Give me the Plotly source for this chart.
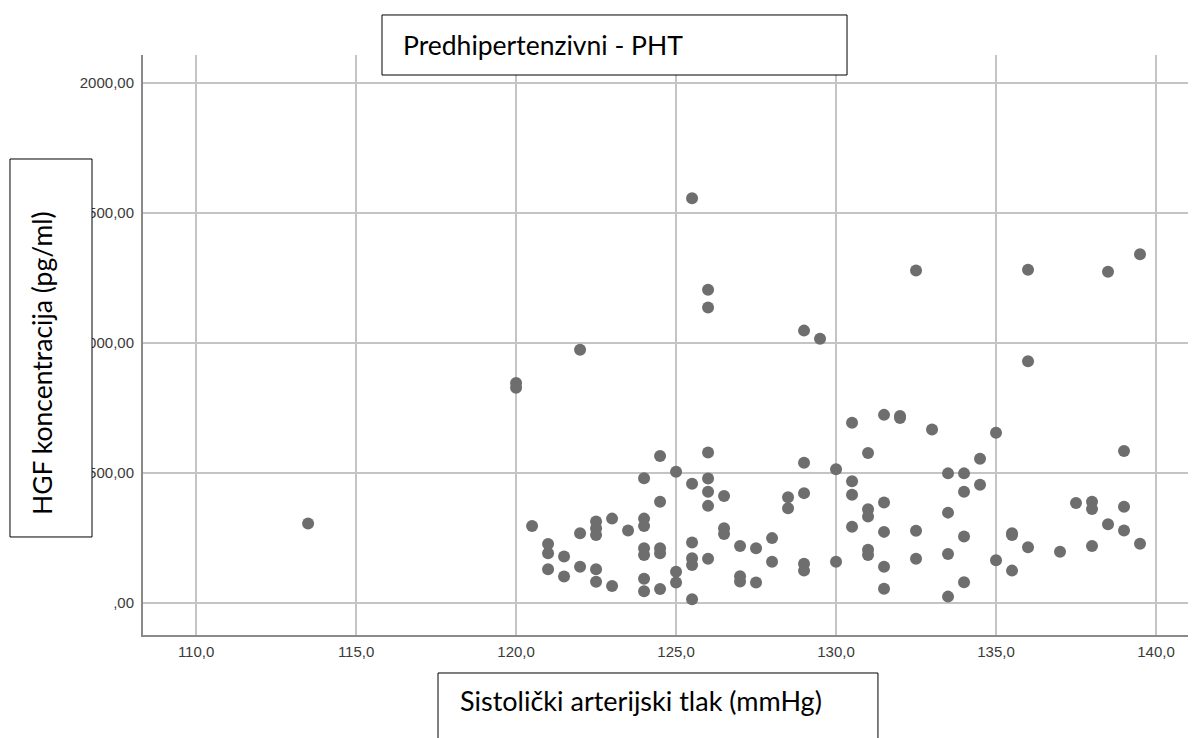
import plotly.graph_objects as go

# Systolic pressure (mmHg) and HGF concentration (pg/ml)
sbp = [
    113.5,
    120, 120, 120.5,
    121, 121, 121, 121.5, 121.5,
    122, 122, 122, 122.5, 122.5, 122.5, 122.5, 122.5,
    123, 123, 123.5,
    124, 124, 124, 124, 124, 124, 124,
    124.5, 124.5, 124.5, 124.5, 124.5,
    125, 125, 125,
    125.5, 125.5, 125.5, 125.5, 125.5, 125.5,
    126, 126, 126, 126, 126, 126, 126,
    126.5, 126.5, 126.5,
    127, 127, 127, 127.5, 127.5,
    128, 128, 128.5, 128.5,
    129, 129, 129, 129, 129, 129.5,
    130, 130, 130.5, 130.5, 130.5, 130.5,
    131, 131, 131, 131, 131,
    131.5, 131.5, 131.5, 131.5, 131.5,
    132, 132, 132.5, 132.5, 132.5, 133,
    133.5, 133.5, 133.5, 133.5,
    134, 134, 134, 134, 134.5, 134.5,
    135, 135, 135.5, 135.5, 135.5,
    136, 136, 136, 137, 137.5,
    138, 138, 138, 138.5, 138.5,
    139, 139, 139, 139.5, 139.5,
]
hgf = [
    304,
    845, 826, 295,
    225, 190, 128, 177, 100,
    972, 267, 138, 312, 286, 260, 128, 80,
    323, 64, 277,
    478, 323, 295, 209, 183, 92, 44,
    564, 388, 209, 190, 52,
    503, 119, 77,
    1555, 457, 231, 171, 145, 13,
    1203, 1135, 577, 477, 426, 372, 169,
    410, 286, 264,
    218, 101, 81, 209, 77,
    248, 157, 405, 363,
    1046, 538, 421, 149, 123, 1015,
    513, 157, 692, 467, 415, 292,
    575, 359, 331, 203, 183,
    722, 385, 272, 138, 53,
    718, 710, 1277, 276, 169, 666,
    497, 346, 187, 23,
    497, 426, 254, 78, 553, 453,
    653, 163, 267, 260, 123,
    1280, 928, 213, 196, 383,
    388, 360, 218, 1272, 301,
    583, 369, 277, 1340, 226,
]

x_ticks = [110, 115, 120, 125, 130, 135, 140]
x_labels = ["110,0", "115,0", "120,0", "125,0", "130,0", "135,0", "140,0"]
y_ticks = [0, 500, 1000, 1500, 2000]
y_labels = [",00", "500,00", "1000,00", "1500,00", "2000,00"]

GRID = "#c4c4c4"
TEXT_FONT = "Lato, Carlito, Calibri, sans-serif"

fig = go.Figure(go.Scatter(
    x=sbp, y=hgf, mode="markers",
    marker=dict(color="#6e6e6e", size=12, line=dict(width=0)),
    hoverinfo="x+y", showlegend=False,
))

box = dict(type="rect", xref="paper", yref="paper", layer="above",
           fillcolor="white", line=dict(color="black", width=1))

# the page body adds an 8px offset, so margins are shifted by that much
fig.update_layout(
    width=1198, height=738,
    margin=dict(l=135, r=18, t=47, b=111),
    paper_bgcolor="white", plot_bgcolor="white",
    font=dict(family="Arial, Liberation Sans, sans-serif", size=15, color="#3a3a3a"),
    xaxis=dict(
        range=[108.34, 141.0], tickvals=x_ticks, ticktext=x_labels,
        showgrid=True, gridcolor=GRID, gridwidth=1.5, zeroline=False,
        showline=True, linecolor="#8a8a8a", linewidth=2,
        ticks="", ticklabelstandoff=2,
    ),
    yaxis=dict(
        range=[-124.6, 2106], tickvals=y_ticks, ticktext=y_labels,
        showgrid=True, gridcolor=GRID, gridwidth=1.5, zeroline=False,
        showline=True, linecolor="#8a8a8a", linewidth=2,
        ticks="", ticklabelstandoff=4,
    ),
    shapes=[
        dict(box, x0=0.2287, x1=0.6737, y0=0.9655, y1=1.0690),
        dict(box, x0=-0.1273, x1=-0.0488, y0=0.169, y1=0.8207),
        dict(box, x0=0.2823, x1=0.7033, y0=-0.1897, y1=-0.0655),
    ],
    annotations=[
        dict(text="Predhipertenzivni - PHT", xref="paper", yref="paper",
             x=0.2469, y=1.0172, xanchor="left", yanchor="middle",
             showarrow=False, font=dict(family=TEXT_FONT, size=26.5, color="black")),
        dict(text="HGF koncentracija (pg/ml)", xref="paper", yref="paper",
             x=-0.0967, y=0.2034, xanchor="center", yanchor="bottom", textangle=-90,
             showarrow=False, font=dict(family=TEXT_FONT, size=26.5, color="black")),
        dict(text="Sistolički arterijski tlak (mmHg)", xref="paper", yref="paper",
             x=0.3014, y=-0.1121, xanchor="left", yanchor="middle",
             showarrow=False, font=dict(family=TEXT_FONT, size=27, color="black")),
    ],
)

fig.write_html("out.html")
